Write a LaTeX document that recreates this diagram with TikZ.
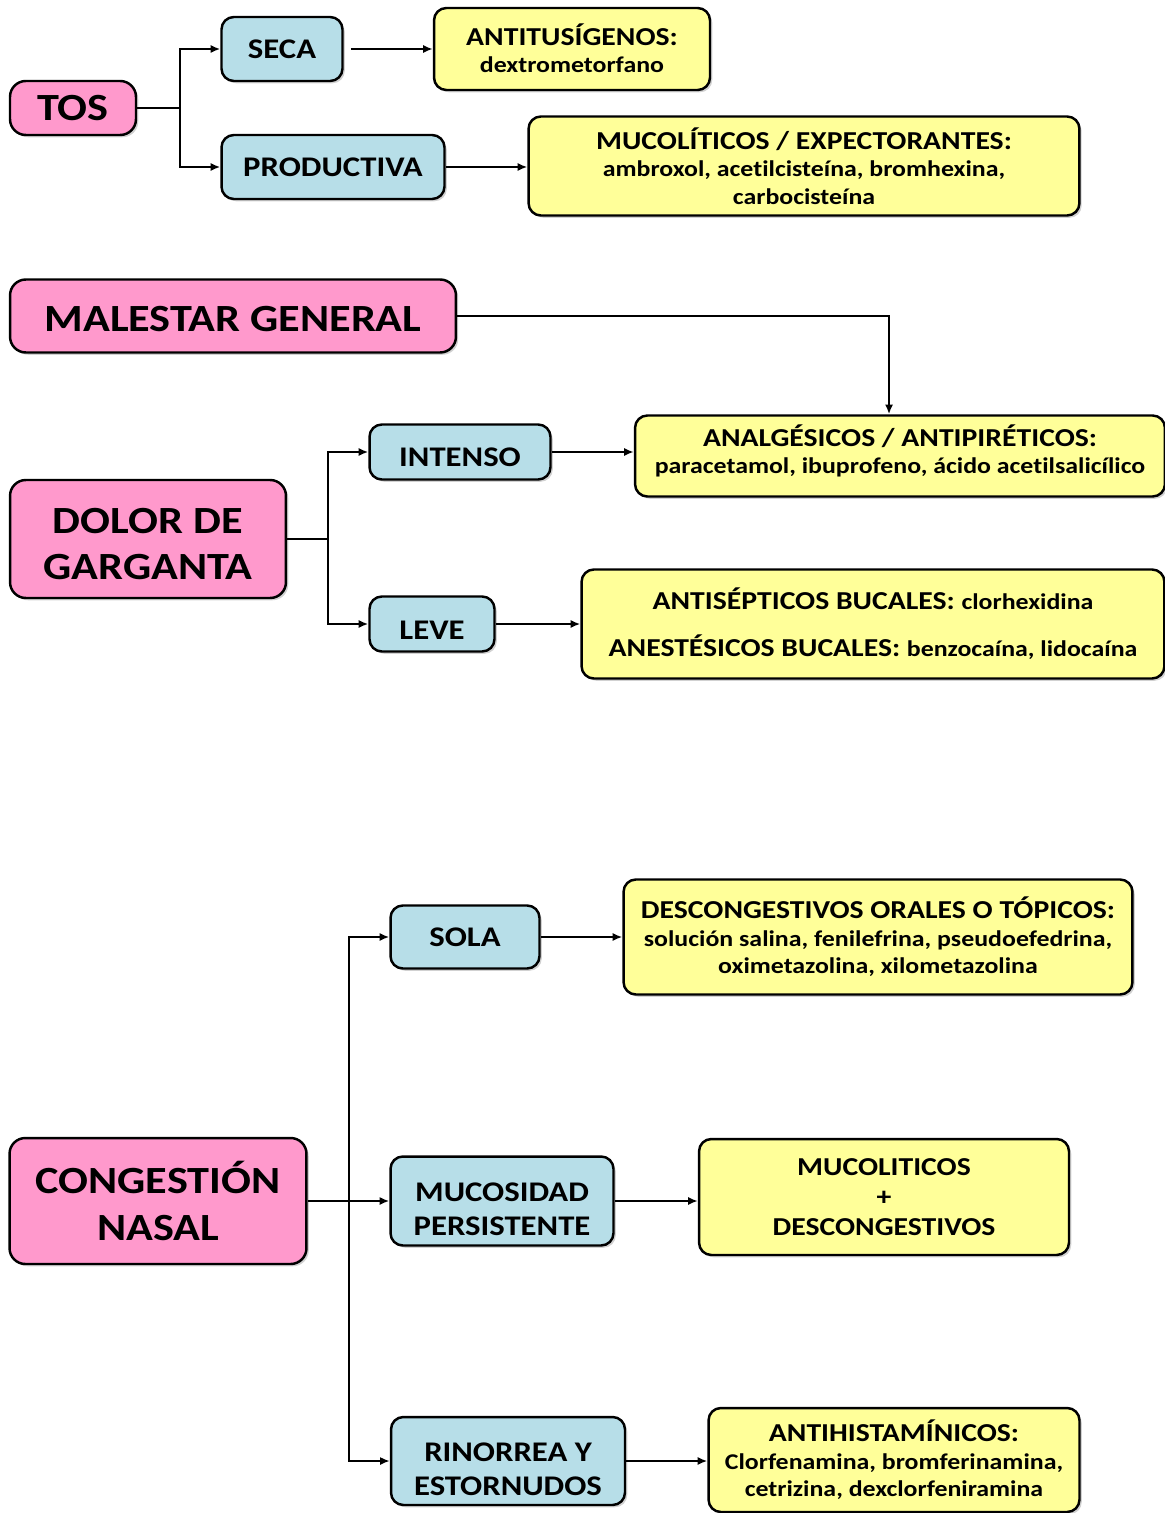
\documentclass[tikz,border=0pt]{standalone}
\usepackage{fontspec}
\newfontfamily\calibri[FakeStretch=1.15,Ligatures=NoCommon]{Carlito}
\usepackage{tikz}
\usetikzlibrary{arrows.meta,shadows}

\definecolor{rosa}{HTML}{FF99CC}
\definecolor{celeste}{HTML}{B7DEE8}
\definecolor{amarillo}{HTML}{FFFF99}

\newcommand\cuerpo{\fontsize{12.8}{15.6}\selectfont}

\begin{document}
\begin{tikzpicture}[
  x=0.02cm,y=-0.02cm,
  >={Latex[length=5.5pt,width=4.6pt]},
  caja/.style={draw=black,line width=1.4pt,rounded corners=7pt,align=center,inner sep=2pt,
    drop shadow={shadow xshift=1.3pt,shadow yshift=-1.3pt,fill=black!30,opacity=.6}},
  sintoma/.style={caja,fill=rosa,rounded corners=9pt,font=\calibri\bfseries\fontsize{21.9}{26.3}\selectfont},
  tipo/.style={caja,fill=celeste,font=\calibri\bfseries\fontsize{16.2}{19.3}\selectfont},
  farmaco/.style={caja,fill=amarillo,font=\calibri\bfseries\fontsize{14.7}{15.6}\selectfont},
  linea/.style={line width=1.4pt},
  flecha/.style={linea,->}
]
  \useasboundingbox (0,0) rectangle (1165,1513);

  % tos
  \node[sintoma,minimum width=2.52cm,minimum height=1.08cm] (tos) at (73,108) {TOS};
  \node[tipo,minimum width=2.42cm,minimum height=1.28cm] (seca) at (282,49) {SECA};
  \node[tipo,minimum width=4.46cm,minimum height=1.28cm] (productiva) at (333,167) {PRODUCTIVA};
  \node[farmaco,minimum width=5.52cm,minimum height=1.64cm,text height=0.96cm] (antitusigenos) at (572,49)
    {ANTITUSÍGENOS:\\{\cuerpo dextrometorfano}};
  \node[farmaco,minimum width=11.02cm,minimum height=1.98cm] (mucoliticos) at (804,166)
    {MUCOLÍTICOS / EXPECTORANTES:\\{\cuerpo ambroxol, acetilcisteína, bromhexina,}\\{\cuerpo carbocisteína}};

  \coordinate (tosj) at (180,108);
  \draw[linea] (tos) -- (tosj);
  \draw[flecha] (tosj) |- (seca);
  \draw[flecha] (tosj) |- (productiva);
  \draw[flecha,shorten <=4pt] (seca) -- (seca -| antitusigenos.west);
  \draw[flecha] (productiva) -- (productiva -| mucoliticos.west);

  % malestar y garganta
  \node[sintoma,minimum width=8.92cm,minimum height=1.46cm,text height=0.62cm] (malestar) at (233,316) {MALESTAR GENERAL};
  \node[farmaco,minimum width=10.6cm,minimum height=1.62cm,text height=0.78cm] (analgesicos) at (900,456)
    {ANALGÉSICOS / ANTIPIRÉTICOS:\\{\cuerpo paracetamol, ibuprofeno, ácido acetilsalicílico}};
  \node[sintoma,minimum width=5.52cm,minimum height=2.36cm,text height=1.63cm] (garganta) at (148,539) {DOLOR DE\\GARGANTA};
  \node[tipo,minimum width=3.62cm,minimum height=1.1cm,text height=0.57cm] (intenso) at (460,452) {INTENSO};
  \node[tipo,minimum width=2.5cm,minimum height=1.1cm,text height=0.61cm] (leve) at (432,624) {LEVE};
  \node[farmaco,minimum width=11.66cm,minimum height=2.18cm,text height=1.37cm] (antisepticos) at (873,624)
    {ANTISÉPTICOS BUCALES: {\cuerpo clorhexidina}\\[11pt]ANESTÉSICOS BUCALES: {\cuerpo benzocaína, lidocaína}};

  \draw[flecha] (malestar) -| ([xshift=-0.22cm]analgesicos.north);
  \coordinate (gargj) at (328,539);
  \draw[linea] (garganta) -- (gargj);
  \draw[flecha] (gargj) |- (intenso);
  \draw[flecha] (gargj) |- (leve);
  \draw[flecha] (intenso) -- (intenso -| analgesicos.west);
  \draw[flecha] (leve) -- (leve -| antisepticos.west);

  % congestion nasal
  \node[sintoma,minimum width=5.94cm,minimum height=2.52cm] (congestion) at (158,1201) {CONGESTIÓN\\NASAL};
  \node[tipo,minimum width=2.98cm,minimum height=1.26cm] (sola) at (465,937) {SOLA};
  \node[tipo,minimum width=4.46cm,minimum height=1.78cm,text height=1.37cm] (mucosidad) at (502,1201) {MUCOSIDAD\\PERSISTENTE};
  \node[tipo,minimum width=4.68cm,minimum height=1.76cm,text height=1.37cm] (rinorrea) at (508,1461) {RINORREA Y\\ESTORNUDOS};
  \node[farmaco,minimum width=10.18cm,minimum height=2.3cm,text height=1.53cm] (descongestivos) at (878,937)
    {DESCONGESTIVOS ORALES O TÓPICOS:\\{\cuerpo solución salina, fenilefrina, pseudoefedrina,}\\{\cuerpo oximetazolina, xilometazolina}};
  \node[farmaco,minimum width=7.4cm,minimum height=2.32cm,font=\calibri\bfseries\fontsize{14.7}{17}\selectfont]
    (mucodesc) at (884,1197) {MUCOLITICOS\\+\\DESCONGESTIVOS};
  \node[farmaco,minimum width=7.42cm,minimum height=2.08cm] (antihistaminicos) at (894,1460)
    {ANTIHISTAMÍNICOS:\\{\cuerpo Clorfenamina, bromferinamina,}\\{\cuerpo cetrizina, dexclorfeniramina}};

  \coordinate (congj) at (349,1201);
  \draw[flecha] (congestion) -- (mucosidad);
  \draw[flecha] (congj) |- (sola);
  \draw[flecha] (congj) |- (rinorrea);
  \draw[flecha] (sola) -- (sola -| descongestivos.west);
  \draw[flecha] (mucosidad) -- (mucosidad -| mucodesc.west);
  \draw[flecha] (rinorrea) -- (rinorrea -| antihistaminicos.west);
\end{tikzpicture}
\end{document}
